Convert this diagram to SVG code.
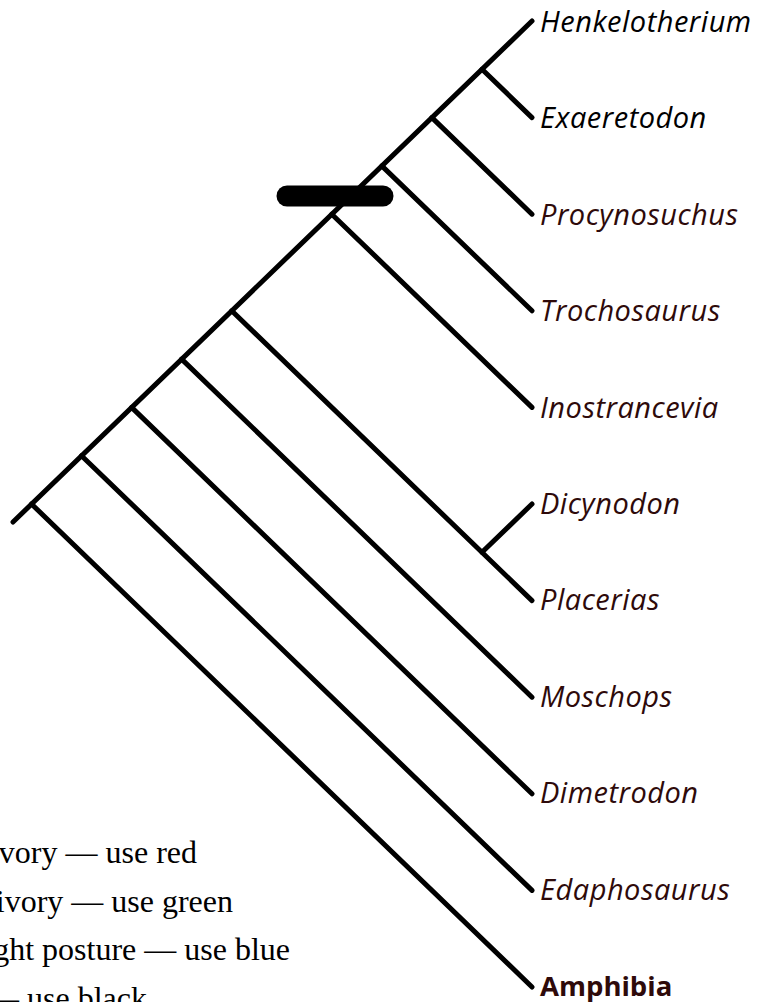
<svg xmlns="http://www.w3.org/2000/svg" width="776" height="1002" viewBox="0 0 776 1002">
<style>
.br{stroke:#000;stroke-width:5;stroke-linecap:round;fill:none}
.lbl{font-family:"Open Sans","Noto Sans",sans-serif;font-style:italic;font-size:29px;letter-spacing:0.5px;fill:#2e0a0a}
.blk{fill:#000}
.bold{font-style:normal;font-weight:bold;font-size:27.5px;letter-spacing:0}
.leg{font-family:"Liberation Serif","Times New Roman",serif;font-size:32px;fill:#000}
</style>
<rect width="776" height="1002" fill="#fff"/>
<g id="connectors">
<line class="br" x1="13" y1="522" x2="532" y2="21"/>
<line class="br" x1="482" y1="69.3" x2="532" y2="117.6"/>
<line class="br" x1="431.9" y1="117.6" x2="532" y2="214.2"/>
<line class="br" x1="381.8" y1="165.9" x2="532" y2="310.8"/>
<line class="br" x1="331.8" y1="214.2" x2="532" y2="407.4"/>
<line class="br" x1="231.7" y1="310.8" x2="532" y2="600.6"/>
<line class="br" x1="482" y1="552.3" x2="532" y2="504"/>
<line class="br" x1="181.6" y1="359.1" x2="532" y2="697.2"/>
<line class="br" x1="131.6" y1="407.4" x2="532" y2="793.8"/>
<line class="br" x1="81.5" y1="455.7" x2="532" y2="890.4"/>
<line class="br" x1="31.5" y1="504" x2="532" y2="987"/>
</g>
<g id="marker-bar">
<line x1="287" y1="196" x2="383" y2="196" stroke="#000" stroke-width="21" stroke-linecap="round"/>
</g>
<g id="n-henkelotherium"><text class="lbl blk" x="540" y="32">Henkelotherium</text></g>
<g id="n-exaeretodon"><text class="lbl blk" x="540" y="128.3">Exaeretodon</text></g>
<g id="n-procynosuchus"><text class="lbl" x="540" y="224.5">Procynosuchus</text></g>
<g id="n-trochosaurus"><text class="lbl" x="540" y="321">Trochosaurus</text></g>
<g id="n-inostrancevia"><text class="lbl" x="540" y="417.5">Inostrancevia</text></g>
<g id="n-dicynodon"><text class="lbl" x="540" y="513.5">Dicynodon</text></g>
<g id="n-placerias"><text class="lbl" x="540" y="610">Placerias</text></g>
<g id="n-moschops"><text class="lbl" x="540" y="706.5">Moschops</text></g>
<g id="n-dimetrodon"><text class="lbl" x="540" y="803">Dimetrodon</text></g>
<g id="n-edaphosaurus"><text class="lbl" x="540" y="899.5">Edaphosaurus</text></g>
<g id="n-amphibia"><text class="lbl bold" x="540" y="995.5">Amphibia</text></g>
<g id="legend">
<text class="leg" x="197" y="863" text-anchor="end">ivory — use red</text>
<text class="leg" x="233" y="911.5" text-anchor="end">ivory — use green</text>
<text class="leg" x="290" y="960" text-anchor="end">ght posture — use blue</text>
<text class="leg" x="147" y="1008.5" text-anchor="end">— use black</text>
</g>
</svg>
